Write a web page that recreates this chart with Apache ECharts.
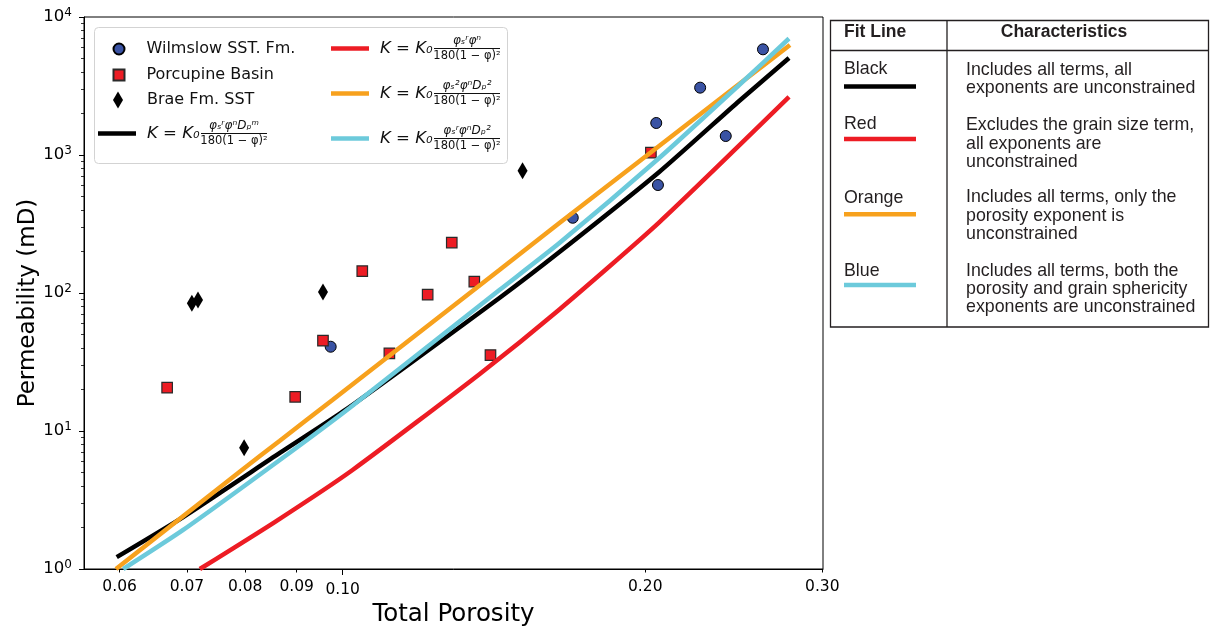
<!DOCTYPE html>
<html><head><meta charset="utf-8">
<script src="https://cdn.jsdelivr.net/npm/echarts@6/dist/echarts.min.js"></script>
<style>html,body{margin:0;padding:0;background:#fff}#c{width:1210px;height:630px}</style>
</head><body><div id="c"></div>
<script>
// ---- data ----
const wilmslow = [[0.1694,351],[0.2051,1706],[0.2059,606],[0.2268,3076],[0.2405,1373],[0.2619,5832],[0.0973,40.8]];
const porcupine = [[0.0669,20.6],[0.0897,17.7],[0.0956,45.1],[0.1046,144],[0.1113,36.5],[0.1215,97.2],[0.1284,232],[0.1352,121],[0.1403,35.5],[0.2026,1040]];
const brae = [[0.0708,84.2],[0.0718,89],[0.0956,101.7],[0.0798,7.57],[0.1510,769]];
const blackFit = [[0.0596,1.22],[0.0694,2.38],[0.0866,6.93],[0.1009,14.4],[0.1432,92.0],[0.1643,198],[0.2065,753],[0.2480,2462],[0.2780,5046]];
const redFit = [[0.0721,1.0],[0.0856,2.19],[0.1023,5.22],[0.1368,25.8],[0.1643,76.0],[0.2065,325],[0.2780,2633]];
const orangeFit = [[0.0595,1.0],[0.0794,5.22],[0.0866,8.5],[0.0977,16.8],[0.1432,147],[0.1643,322],[0.2028,1051],[0.2480,3269],[0.2786,6269]];
const cyanFit = [[0.0605,1.0],[0.0694,1.92],[0.0866,6.17],[0.1016,14.7],[0.1432,105],[0.1643,230],[0.2065,951],[0.2480,3215],[0.2780,6987]];

const xTickValues = [0.06,0.07,0.08,0.09,0.10,0.20,0.30];
const xTickLabels = ['0.06','0.07','0.08','0.09','0.10','0.20','0.30'];
const xMinorTicks = [0.06,0.07,0.08,0.09,0.20,0.30];
const xMajorTicks = [0.10];
const yTickValues = [1,10,100,1000,10000];
const yTickExp = ['0','1','2','3','4'];
const yMinorTicks = [2,3,4,5,6,7,8,9,20,30,40,50,60,70,80,90,200,300,400,500,600,700,800,900,2000,3000,4000,5000,6000,7000,8000,9000];

const scatterNames = ['Wilmslow SST. Fm.','Porcupine Basin','Brae Fm. SST'];
const lineNames = ['Black fit','Red fit','Orange fit','Blue fit'];
const lineColors = ['#000000','#ed1c24','#f7a11d','#6ccadb'];
const fracNumerators = ['φₛʳφⁿDₚᵐ','φₛʳφⁿ','φₛ²φⁿDₚ²','φₛʳφⁿDₚ²'];
const fracDenominator = '180(1 − φ)²';

const tableHeader = ['Fit Line','Characteristics'];
const tableRows = [
  ['Black','Includes all terms, all\nexponents are unconstrained'],
  ['Red','Excludes the grain size term,\nall exponents are\nunconstrained'],
  ['Orange','Includes all terms, only the\nporosity exponent is\nunconstrained'],
  ['Blue','Includes all terms, both the\nporosity and grain sphericity\nexponents are unconstrained']
];

// ---- chart ----
const chart = echarts.init(document.getElementById('c'), null, {renderer:'canvas'});
const F = 'DejaVu Sans';
const xMin = 0.0553, xMax = 0.3005;

const formulaRich = {
  pre:{width:54, lineHeight:13, fontSize:11},
  num:{fontSize:12, fontStyle:'italic', width:66, align:'center', lineHeight:13, fontFamily:F, color:'#111'},
  k:{fontSize:16.5, fontStyle:'italic', width:52, lineHeight:2, fontFamily:F, color:'#111'},
  g:{width:2, lineHeight:2, fontSize:2},
  bar:{width:66, height:1, lineHeight:2, fontSize:2, backgroundColor:'#111'},
  den:{fontSize:11.5, width:66, align:'center', lineHeight:13, fontFamily:F, color:'#111'}
};
function formulaText(i){
  return '{pre| }{num|' + fracNumerators[i] + '}\n{k|K = K₀}{g| }{bar| }\n{pre| }{den|' + fracDenominator + '}';
}

const legends = [];
const scatterLegendPos = [
  {left:112.5, top:40, w:11, h:11, pad:17},
  {left:112.5, top:66, w:11, h:11, pad:17},
  {left:113, top:91, w:10, h:17, pad:19}
];
scatterNames.forEach((n,i)=>{
  const p = scatterLegendPos[i];
  legends.push({data:[n], left:p.left, top:p.top, padding:0, itemWidth:p.w, itemHeight:p.h,
    selectedMode:false, z:5, textStyle:{fontFamily:F, fontSize:16, color:'#111', lineHeight:18, padding:[0,0,0,p.pad]}});
});
const lineLegendPos = [{left:98, top:120},{left:331, top:35},{left:331, top:80},{left:331, top:125}];
lineNames.forEach((n,i)=>{
  const p = lineLegendPos[i];
  legends.push({data:[{name:n, icon:'rect'}], left:p.left, top:p.top, padding:0, itemWidth:38, itemHeight:4.5,
    selectedMode:false, z:5, formatter:()=>formulaText(i),
    textStyle:{fontFamily:F, fontSize:16, color:'#111', rich:formulaRich, padding:[0,0,0,6]}});
});

const graphics = [
  {type:'rect', z:3, shape:{x:94.5, y:27.5, width:413, height:136, r:4}, style:{fill:'rgba(255,255,255,0.85)', stroke:'#d3d3d3', lineWidth:1}},
  // table
  {type:'rect', shape:{x:830.5, y:20.5, width:378, height:306.5}, style:{fill:'none', stroke:'#231f20', lineWidth:1.3}},
  {type:'line', shape:{x1:830.5, y1:50.5, x2:1208.5, y2:50.5}, style:{stroke:'#231f20', lineWidth:1.3}},
  {type:'line', shape:{x1:947, y1:20.5, x2:947, y2:327}, style:{stroke:'#231f20', lineWidth:1.3}},
  {type:'text', style:{text:tableHeader[0], x:844, y:32, fontFamily:'Liberation Sans', fontWeight:'bold', fontSize:17.5, fill:'#231f20', align:'left', verticalAlign:'middle'}},
  {type:'text', style:{text:tableHeader[1], x:1064, y:32, fontFamily:'Liberation Sans', fontWeight:'bold', fontSize:17.5, fill:'#231f20', align:'center', verticalAlign:'middle'}}
];
const rowLabelY = [69, 124.5, 198, 271];
const rowSwatchY = [86.5, 139, 214.3, 285];
const rowTextY = [69.8, 125.5, 197.5, 270.8];
tableRows.forEach((r,i)=>{
  graphics.push({type:'text', style:{text:r[0], x:844, y:rowLabelY[i], fontFamily:'Liberation Sans', fontSize:17.8, fill:'#231f20', align:'left', verticalAlign:'middle'}});
  graphics.push({type:'rect', shape:{x:844, y:rowSwatchY[i]-2.25, width:72, height:4.5}, style:{fill:lineColors[i]}});
  graphics.push({type:'text', style:{text:r[1], x:966, y:rowTextY[i]-9.15, fontFamily:'Liberation Sans', fontSize:17.8, lineHeight:18.3, fill:'#231f20', align:'left', verticalAlign:'top'}});
});

const lineData = [blackFit, redFit, orangeFit, cyanFit];
const series = [
  {name:scatterNames[0], type:'scatter', data:wilmslow, symbol:'circle', symbolSize:11, z:2,
    itemStyle:{color:'#3a53a4', borderColor:'#000', borderWidth:1, opacity:1}},
  {name:scatterNames[1], type:'scatter', data:porcupine, symbol:'rect', symbolSize:10.5, z:2,
    itemStyle:{color:'#ed1c24', borderColor:'#2a2a2a', borderWidth:1.2, opacity:1}},
  {name:scatterNames[2], type:'scatter', data:brae, symbol:'diamond', symbolSize:[10,17], z:2,
    itemStyle:{color:'#000', opacity:1}}
];
lineNames.forEach((n,i)=>{
  series.push({name:n, type:'line', data:lineData[i], symbol:'none', showSymbol:false, smooth:0.2, clip:true, z:3,
    lineStyle:{color:lineColors[i], width:4.5, cap:'butt'}, itemStyle:{color:lineColors[i]}});
});

const option = {
  animation:false,
  backgroundColor:'#fff',
  grid:{left:84, right:387, top:17, bottom:61, show:true, borderColor:'#000', borderWidth:1, backgroundColor:'transparent',
        containLabel:false, outerBoundsMode:'none'},
  legend:legends,
  graphic:graphics,
  xAxis:[
    {type:'log', logBase:10, min:xMin, max:xMax, position:'bottom',
     axisLine:{show:true, lineStyle:{color:'#000', width:1}},
     axisTick:{show:true, customValues:xMinorTicks, length:3.5, lineStyle:{color:'#000', width:1}},
     axisLabel:{show:true, customValues:xTickValues, margin:9.5, color:'#000', fontFamily:F, fontSize:15.5,
       formatter:(v)=>{ const i = xTickValues.findIndex(t=>Math.abs(t-v)<1e-6); const s = i>=0?xTickLabels[i]:v.toFixed(2); return Math.abs(v-0.1)<1e-6 ? '{lo|'+s+'}' : s; },
       rich:{lo:{padding:[3,0,0,0], fontFamily:F, fontSize:15.5, color:'#000'}}},
     splitLine:{show:false}, minorTick:{show:false}, minorSplitLine:{show:false},
     name:'Total Porosity', nameLocation:'middle', nameGap:33, nameMoveOverlap:false,
     nameTextStyle:{fontFamily:F, fontSize:24.5, color:'#000'}},
    {type:'log', logBase:10, min:xMin, max:xMax, position:'bottom',
     axisLine:{show:false}, axisTick:{show:true, customValues:xMajorTicks, length:6, lineStyle:{color:'#000', width:1}},
     axisLabel:{show:false}, splitLine:{show:false}}
  ],
  yAxis:[
    {type:'log', logBase:10, min:1, max:10000, position:'left',
     axisLine:{show:true, lineStyle:{color:'#000', width:1}},
     axisTick:{show:true, customValues:yTickValues, length:5, lineStyle:{color:'#000', width:1}},
     axisLabel:{show:true, customValues:yTickValues, margin:12, color:'#000',
       formatter:(v)=>{ const i = yTickValues.findIndex(t=>Math.abs(Math.log10(t)-Math.log10(v))<1e-6); return '{b|10}{s|'+(i>=0?yTickExp[i]:'')+'}'; },
       rich:{b:{fontFamily:F, fontSize:16.5, lineHeight:20, color:'#000'}, s:{fontFamily:F, fontSize:12, lineHeight:11, verticalAlign:'top', color:'#000'}}},
     splitLine:{show:false},
     name:'Permeability (mD)', nameLocation:'middle', nameGap:44, nameRotate:90, nameMoveOverlap:false,
     nameTextStyle:{fontFamily:F, fontSize:23, color:'#000', padding:[0,20,0,0]}},
    {type:'log', logBase:10, min:1, max:10000, position:'left',
     axisLine:{show:false}, axisTick:{show:true, customValues:yMinorTicks, length:3, lineStyle:{color:'#000', width:0.8}},
     axisLabel:{show:false}, splitLine:{show:false}}
  ],
  series:series
};
chart.setOption(option);
</script>
</body></html>
